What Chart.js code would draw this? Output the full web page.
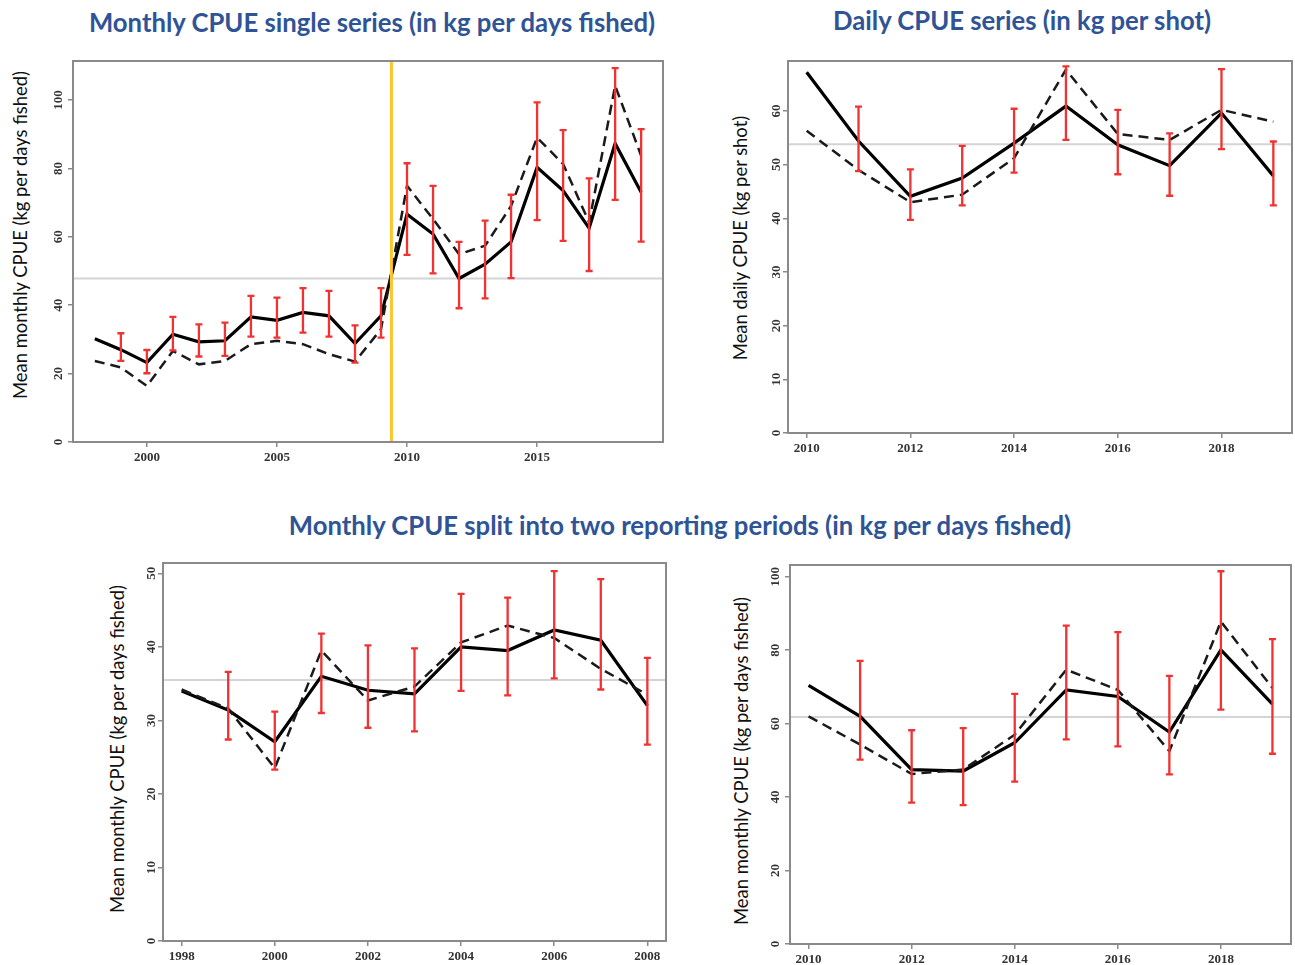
<!DOCTYPE html>
<html>
<head>
<meta charset="utf-8">
<script src="https://cdn.jsdelivr.net/npm/chart.js@4.4.1/dist/chart.umd.min.js"></script>
<style>
  html, body { margin: 0; padding: 0; background: #fff; }
  body { width: 1295px; height: 965px; position: relative; overflow: hidden; font-family: Lato, "Open Sans", sans-serif; }
  .title { position: absolute; transform: translate(-50%, -50%); white-space: nowrap; color: #2F5496; font-weight: bold; font-size: 25.7px; }
  .ylab { position: absolute; transform: translate(-50%, -50%) rotate(-90deg); white-space: nowrap; color: #111; font-size: 18.4px; }
  .panel { position: absolute; }
</style>
</head>
<body>

<div class="title" style="left:372px; top:22px;">Monthly CPUE single series (in kg per days fished)</div>
<div class="title" style="left:1022px; top:20px;">Daily CPUE series (in kg per shot)</div>
<div class="title" style="left:680px; top:525px;">Monthly CPUE split into two reporting periods (in kg per days fished)</div>

<div class="ylab" style="left:20px; top:235px;">Mean monthly CPUE (kg per days fished)</div>
<div class="ylab" style="left:740px; top:238px;">Mean daily CPUE (kg per shot)</div>
<div class="ylab" style="left:117px; top:749px;">Mean monthly CPUE (kg per days fished)</div>
<div class="ylab" style="left:741px; top:761px;">Mean monthly CPUE (kg per days fished)</div>

<div class="panel" style="left:30px; top:51px;"><canvas id="pSingle" width="643" height="421"></canvas></div>
<div class="panel" style="left:745px; top:51px;"><canvas id="pDaily" width="550" height="412"></canvas></div>
<div class="panel" style="left:120px; top:553px;"><canvas id="pEarly" width="556" height="412"></canvas></div>
<div class="panel" style="left:747px; top:555px;"><canvas id="pLate" width="548" height="410"></canvas></div>

<script>
// ---- Monthly CPUE, single series 1998-2019 ----
const singleYears  = [1998,1999,2000,2001,2002,2003,2004,2005,2006,2007,2008,2009,2010,2011,2012,2013,2014,2015,2016,2017,2018,2019];
const singleMean   = [30.2,27.0,23.2,31.5,29.3,29.6,36.6,35.6,37.9,36.9,28.8,36.9,66.6,60.8,47.8,52.0,58.5,80.3,73.5,62.5,87.3,73.0];
const singleAlt    = [23.7,21.8,16.4,26.6,22.7,23.7,28.6,29.6,28.6,25.7,23.5,33.0,74.9,65.2,54.9,57.4,69.0,89.0,81.3,64.2,104.2,83.7];
const singleLower  = [null,23.7,20.1,26.8,25.0,25.2,30.8,30.5,32.0,30.8,23.2,30.5,54.7,49.3,39.1,42.0,47.9,64.9,58.8,50.0,70.8,58.6];
const singleUpper  = [null,31.8,26.9,36.6,34.4,34.9,42.7,42.2,45.0,44.2,34.1,45.0,81.5,74.9,58.5,64.7,72.3,99.3,91.2,77.1,109.3,91.5];
const singleOverall = 47.8;
const singleBreakYear = 2009.4;
const singleXTicks = [2000,2005,2010,2015];
const singleYTicks = [0,20,40,60,80,100];

// ---- Daily CPUE (kg per shot) 2010-2019 ----
const dailyYears  = [2010,2011,2012,2013,2014,2015,2016,2017,2018,2019];
const dailyMean   = [67.2,54.4,44.1,47.5,54.0,60.9,53.7,49.8,59.6,47.9];
const dailyAlt    = [56.3,49.0,43.0,44.4,51.2,67.7,55.7,54.6,60.2,58.0];
const dailyLower  = [null,48.8,39.7,42.4,48.5,54.6,48.2,44.2,52.9,42.4];
const dailyUpper  = [null,60.8,49.1,53.5,60.4,68.3,60.2,55.8,67.8,54.3];
const dailyOverall = 53.8;
const dailyXTicks = [2010,2012,2014,2016,2018];
const dailyYTicks = [0,10,20,30,40,50,60];

// ---- Monthly CPUE, first reporting period 1998-2008 ----
const earlyYears  = [1998,1999,2000,2001,2002,2003,2004,2005,2006,2007,2008];
const earlyMean   = [34.0,31.4,27.1,36.0,34.1,33.6,40.0,39.5,42.3,40.9,32.0];
const earlyAlt    = [34.2,31.6,23.5,39.5,32.7,34.6,40.6,42.9,41.2,37.0,33.5];
const earlyLower  = [null,27.4,23.3,31.0,29.0,28.5,34.0,33.4,35.7,34.2,26.7];
const earlyUpper  = [null,36.6,31.2,41.8,40.2,39.8,47.2,46.7,50.3,49.2,38.5];
const earlyOverall = 35.5;
const earlyXTicks = [1998,2000,2002,2004,2006,2008];
const earlyYTicks = [0,10,20,30,40,50];

// ---- Monthly CPUE, second reporting period 2010-2019 ----
const lateYears  = [2010,2011,2012,2013,2014,2015,2016,2017,2018,2019];
const lateMean   = [70.4,62.0,47.5,47.1,54.8,69.2,67.4,57.7,80.1,65.3];
const lateAlt    = [62.0,54.3,46.3,47.5,57.0,74.7,69.2,52.5,87.8,69.7];
const lateLower  = [null,50.2,38.5,37.8,44.2,55.7,53.8,46.2,63.8,51.8];
const lateUpper  = [null,77.1,58.2,58.8,68.1,86.7,84.9,73.0,101.5,83.0];
const lateOverall = 61.8;
const lateXTicks = [2010,2012,2014,2016,2018];
const lateYTicks = [0,20,40,60,80,100];

// Reference lines, confidence intervals and the plot frame
const cpueExtras = {
  id: 'cpueExtras',
  beforeDatasetsDraw(chart, args, o) {
    const { ctx, chartArea: a, scales: { x, y } } = chart;
    ctx.save();
    const yp = y.getPixelForValue(o.overall);
    ctx.strokeStyle = '#d4d4d4';
    ctx.lineWidth = 2;
    ctx.beginPath();
    ctx.moveTo(a.left, yp);
    ctx.lineTo(a.right, yp);
    ctx.stroke();
    ctx.restore();
  },
  afterDatasetsDraw(chart, args, o) {
    const { ctx, chartArea: a, scales: { x, y } } = chart;
    ctx.save();
    ctx.strokeStyle = '#f03232';
    ctx.lineWidth = 2.3;
    o.years.forEach((yr, i) => {
      if (o.lower[i] == null) return;
      const xp = x.getPixelForValue(yr);
      const lo = y.getPixelForValue(o.lower[i]);
      const hi = y.getPixelForValue(o.upper[i]);
      ctx.beginPath();
      ctx.moveTo(xp, lo); ctx.lineTo(xp, hi);
      ctx.moveTo(xp - 3.5, lo); ctx.lineTo(xp + 3.5, lo);
      ctx.moveTo(xp - 3.5, hi); ctx.lineTo(xp + 3.5, hi);
      ctx.stroke();
    });
    if (o.breakYear != null) {
      const xb = x.getPixelForValue(o.breakYear);
      ctx.strokeStyle = '#FFC52A';
      ctx.lineWidth = 3;
      ctx.beginPath();
      ctx.moveTo(xb, a.top);
      ctx.lineTo(xb, a.bottom);
      ctx.stroke();
    }
    ctx.restore();
  },
  afterDraw(chart) {
    const { ctx, chartArea: a } = chart;
    ctx.save();
    ctx.strokeStyle = '#8a8a8a';
    ctx.lineWidth = 2;
    ctx.strokeRect(a.left, a.top, a.right - a.left, a.bottom - a.top);
    ctx.restore();
  }
};

const tickFont = { family: '"Liberation Serif", "DejaVu Serif", serif', weight: 'bold', size: 13 };

function drawPanel(id, p) {
  const points = vals => p.years.map((yr, i) => ({ x: yr, y: vals[i] }));
  new Chart(document.getElementById(id), {
    type: 'line',
    data: {
      datasets: [
        { data: points(p.alt), borderColor: '#1a1a1a', borderWidth: 2.5, borderDash: [10, 6], pointRadius: 0, tension: 0, fill: false },
        { data: points(p.mean), borderColor: '#000', borderWidth: 3.2, pointRadius: 0, tension: 0, fill: false }
      ]
    },
    options: {
      responsive: false,
      animation: false,
      events: [],
      layout: { padding: { top: 10, right: p.padRight, left: 0, bottom: 0 } },
      plugins: {
        legend: { display: false },
        tooltip: { enabled: false },
        cpueExtras: { years: p.years, lower: p.lower, upper: p.upper, overall: p.overall, breakYear: p.breakYear }
      },
      scales: {
        x: {
          type: 'linear',
          min: p.xMin, max: p.xMax,
          afterBuildTicks: s => { s.ticks = p.xTicks.map(v => ({ value: v })); },
          afterFit: s => { s.height = p.xAxisHeight; },
          ticks: { font: tickFont, color: '#333', maxRotation: 0, autoSkip: false, padding: 3, callback: v => String(v) },
          grid: { drawOnChartArea: false, drawTicks: true, tickLength: 5, color: '#8a8a8a', lineWidth: 1.5 },
          border: { display: false }
        },
        y: {
          type: 'linear',
          min: 0, max: p.yMax,
          afterBuildTicks: s => { s.ticks = p.yTicks.map(v => ({ value: v })); },
          afterFit: s => { s.width = 43; },
          ticks: { font: tickFont, color: '#333', minRotation: 90, maxRotation: 90, crossAlign: 'center', autoSkip: false, padding: 0, callback: v => String(v) },
          grid: { drawOnChartArea: false, drawTicks: true, tickLength: 5, color: '#8a8a8a', lineWidth: 1.5 },
          border: { display: false }
        }
      }
    },
    plugins: [cpueExtras]
  });
}

drawPanel('pSingle', {
  years: singleYears, mean: singleMean, alt: singleAlt, lower: singleLower, upper: singleUpper,
  overall: singleOverall, breakYear: singleBreakYear, xTicks: singleXTicks, yTicks: singleYTicks,
  xMin: 1997.16, xMax: 2019.84, yMax: 111.4, padRight: 10, xAxisHeight: 30
});
drawPanel('pDaily', {
  years: dailyYears, mean: dailyMean, alt: dailyAlt, lower: dailyLower, upper: dailyUpper,
  overall: dailyOverall, breakYear: null, xTicks: dailyXTicks, yTicks: dailyYTicks,
  xMin: 2009.64, xMax: 2019.36, yMax: 69.3, padRight: 3, xAxisHeight: 30
});
drawPanel('pEarly', {
  years: earlyYears, mean: earlyMean, alt: earlyAlt, lower: earlyLower, upper: earlyUpper,
  overall: earlyOverall, breakYear: null, xTicks: earlyXTicks, yTicks: earlyYTicks,
  xMin: 1997.6, xMax: 2008.4, yMax: 51.4, padRight: 10, xAxisHeight: 24
});
drawPanel('pLate', {
  years: lateYears, mean: lateMean, alt: lateAlt, lower: lateLower, upper: lateUpper,
  overall: lateOverall, breakYear: null, xTicks: lateXTicks, yTicks: lateYTicks,
  xMin: 2009.64, xMax: 2019.36, yMax: 103.2, padRight: 4, xAxisHeight: 21
});
</script>
</body>
</html>
